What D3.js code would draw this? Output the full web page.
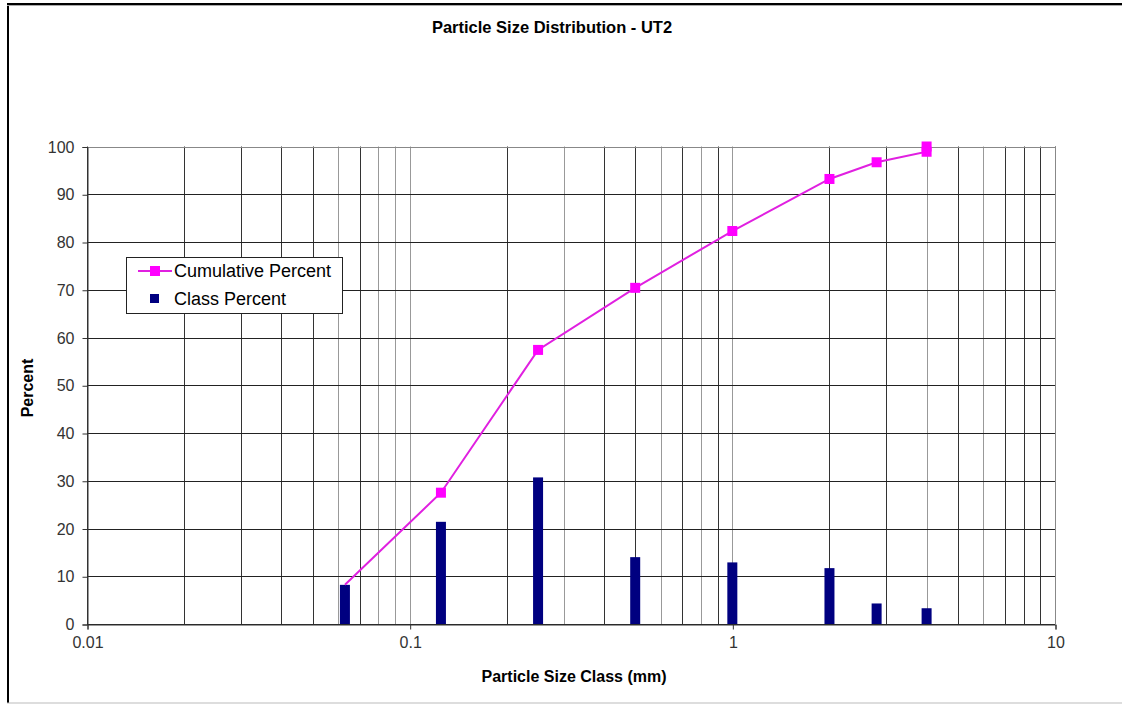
<!DOCTYPE html>
<html><head><meta charset="utf-8">
<script src="https://cdn.jsdelivr.net/npm/d3@7"></script>
<style>body{margin:0;background:#fff}svg{display:block}</style>
</head><body>
<svg id="c" width="1122" height="704"></svg>
<script>
const title = "Particle Size Distribution - UT2";
const xTitle = "Particle Size Class (mm)";
const yTitle = "Percent";
const cumSizes = [0.063, 0.125, 0.25, 0.5, 1, 2, 2.8, 4, 4];
const cumPercent = [8.2, 27.5, 57.4, 70.4, 82.3, 93.2, 96.7, 98.9, 100];
const classSizes = [0.063, 0.125, 0.25, 0.5, 1, 2, 2.8, 4];
const classPercent = [8.2, 21.4, 30.7, 14.0, 12.9, 11.7, 4.3, 3.3];
const xTicks = [0.01, 0.1, 1, 10];
const xTickLabels = ["0.01", "0.1", "1", "10"];
const yTicks = [0, 10, 20, 30, 40, 50, 60, 70, 80, 90, 100];
const legendLabels = ["Cumulative Percent", "Class Percent"];

const svg = d3.select("#c");
const L = 87, R = 1055, T = 146.5, B = 624;
const x = d3.scaleLog().domain([0.01, 10]).range([L, R]);
const y = d3.scaleLinear().domain([0, 100]).range([B, T]);
const font = "Liberation Sans, Arial, sans-serif";

// outer frame
svg.append("line").attr("x1",8).attr("x2",8).attr("y1",4).attr("y2",703).attr("stroke","#000").attr("stroke-width",2);
svg.append("line").attr("x1",7).attr("x2",1122).attr("y1",4).attr("y2",4).attr("stroke","#000").attr("stroke-width",2);
svg.append("line").attr("x1",7).attr("x2",1122).attr("y1",5.5).attr("y2",5.5).attr("stroke","#aaa").attr("stroke-width",1);
svg.append("line").attr("x1",7).attr("x2",1122).attr("y1",703).attr("y2",703).attr("stroke","#bbb").attr("stroke-width",1);

// vertical gridlines (log minor + major)
const gridVals = [];
[0.01, 0.1, 1].forEach(d => { for (let k = 1; k <= 9; k++) gridVals.push(d * k); });
gridVals.push(10);
const lightSet = new Set(["0.06","0.08","0.09","0.1","0.3","0.6","0.8","1","4","6"]);
const g = svg.append("g");
g.selectAll("line.v").data(gridVals).join("line")
  .attr("x1", d => Math.round(x(d)) + 0.5).attr("x2", d => Math.round(x(d)) + 0.5)
  .attr("y1", T).attr("y2", B)
  .attr("stroke", d => lightSet.has(+d.toPrecision(3) + "") ? "#999" : "#333")
  .attr("stroke-width", 1);
// horizontal gridlines
g.selectAll("line.h").data(yTicks).join("line")
  .attr("x1", L).attr("x2", R)
  .attr("y1", d => Math.round(y(d)) + 0.5).attr("y2", d => Math.round(y(d)) + 0.5)
  .attr("stroke", "#222").attr("stroke-width", 1);
svg.append("line").attr("x1", R + 0.5).attr("x2", R + 0.5).attr("y1", T).attr("y2", B).attr("stroke", "#888");
svg.append("line").attr("x1", L).attr("x2", R).attr("y1", Math.round(T)+0.5).attr("y2", Math.round(T)+0.5).attr("stroke", "#888");

// axes
const yAxis = d3.axisLeft(y).tickValues(yTicks).tickSize(5).tickPadding(8).tickFormat(d3.format("d"));
const ya = svg.append("g").attr("transform", `translate(${L+0.5},0.5)`).call(yAxis);
const xAxis = d3.axisBottom(x).tickValues(xTicks).tickSize(5).tickPadding(7).tickFormat((d,i) => xTickLabels[i]);
const xa = svg.append("g").attr("transform", `translate(0.5,${B+0.5})`).call(xAxis);
[ya, xa].forEach(a => {
  a.select(".domain").attr("stroke", "#333");
  a.selectAll(".tick line").attr("stroke", "#333");
  a.selectAll("text").attr("font-family", font).attr("font-size", 16).attr("fill", "#333");
});

// bars
const bw = 10;
svg.append("g").selectAll("rect").data(classSizes).join("rect")
  .attr("x", d => x(d) - bw/2).attr("width", bw)
  .attr("y", (d,i) => y(classPercent[i])).attr("height", (d,i) => B - y(classPercent[i]))
  .attr("fill", "#000080");

// cumulative line
const pts = cumSizes.map((s,i) => [s, cumPercent[i]]);
svg.append("path").datum(pts)
  .attr("d", d3.line().x(d => x(d[0])).y(d => y(d[1])))
  .attr("fill", "none").attr("stroke", "#e020e0").attr("stroke-width", 2);
svg.append("g").selectAll("rect").data(pts.slice(1)).join("rect")
  .attr("x", d => x(d[0]) - 5).attr("y", d => y(d[1]) - 5).attr("width", 10).attr("height", 10)
  .attr("fill", "#ff00ff");

// titles
svg.append("text").attr("x", 552).attr("y", 33).attr("text-anchor", "middle")
  .attr("font-family", font).attr("font-weight", "bold").attr("font-size", 16.5).text(title);
svg.append("text").attr("x", 574).attr("y", 682).attr("text-anchor", "middle")
  .attr("font-family", font).attr("font-weight", "bold").attr("font-size", 16).text(xTitle);
svg.append("text").attr("transform", "translate(33,388) rotate(-90)").attr("text-anchor", "middle")
  .attr("font-family", font).attr("font-weight", "bold").attr("font-size", 16).text(yTitle);

// legend
const lg = svg.append("g");
lg.append("rect").attr("x", 126.5).attr("y", 257.5).attr("width", 216).attr("height", 56)
  .attr("fill", "#fff").attr("stroke", "#222");
lg.append("line").attr("x1", 138).attr("x2", 172).attr("y1", 271).attr("y2", 271).attr("stroke", "#e020e0").attr("stroke-width", 2);
lg.append("rect").attr("x", 150).attr("y", 266).attr("width", 10).attr("height", 10).attr("fill", "#ff00ff");
lg.append("rect").attr("x", 150).attr("y", 294).attr("width", 9).attr("height", 9).attr("fill", "#000080");
lg.append("text").attr("x", 174).attr("y", 277).attr("font-family", font).attr("font-size", 18).text(legendLabels[0]);
lg.append("text").attr("x", 174).attr("y", 305).attr("font-family", font).attr("font-size", 18).text(legendLabels[1]);
</script>
</body></html>
